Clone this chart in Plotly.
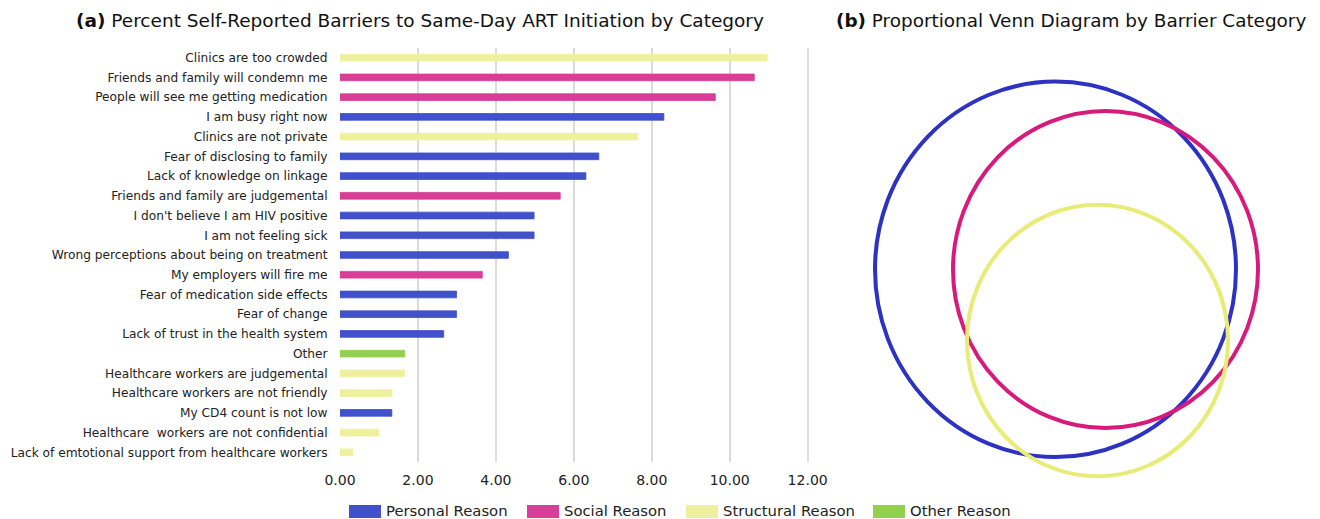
import plotly.graph_objects as go

# ---------------- data ----------------
categories = [
    "Clinics are too crowded",
    "Friends and family will condemn me",
    "People will see me getting medication",
    "I am busy right now",
    "Clinics are not private",
    "Fear of disclosing to family",
    "Lack of knowledge on linkage",
    "Friends and family are judgemental",
    "I don't believe I am HIV positive",
    "I am not feeling sick",
    "Wrong perceptions about being on treatment",
    "My employers will fire me",
    "Fear of medication side effects",
    "Fear of change",
    "Lack of trust in the health system",
    "Other",
    "Healthcare workers are judgemental",
    "Healthcare workers are not friendly",
    "My CD4 count is not low",
    "Healthcare  workers are not confidential",
    "Lack of emtotional support from healthcare workers",
]
values = [10.96, 10.63, 9.63, 8.31, 7.64, 6.64, 6.31, 5.65, 4.98, 4.98, 4.32,
          3.65, 2.99, 2.99, 2.66, 1.66, 1.66, 1.33, 1.33, 1.00, 0.33]
groups = ["Structural", "Social", "Social", "Personal", "Structural", "Personal",
          "Personal", "Social", "Personal", "Personal", "Personal", "Social",
          "Personal", "Personal", "Personal", "Other", "Structural", "Structural",
          "Personal", "Structural", "Structural"]
x_ticks = [0, 2, 4, 6, 8, 10, 12]
x_tick_labels = ["0.00", "2.00", "4.00", "6.00", "8.00", "10.00", "12.00"]

legend_names = ["Personal Reason", "Social Reason", "Structural Reason", "Other Reason"]
legend_keys = ["Personal", "Social", "Structural", "Other"]

# Venn circles (panel units)
venn_sets = ["Personal", "Social", "Structural"]
venn_cx = [195.5, 245.5, 237.5]
venn_cy = [202.6, 202.4, 134.1]
venn_r = [180.5, 152.5, 130.5]

# ---------------- styles ----------------
bar_colors = {"Personal": "#4150CB", "Social": "#D83D97", "Structural": "#EEF09E", "Other": "#92D050"}
venn_colors = {"Personal": "#2D32C2", "Social": "#D81A7C", "Structural": "#E8EC76"}

W, H = 1320, 519
def px(x):
    return x / W
def py(y):
    return 1 - y / H

fig = go.Figure()
fig.add_trace(go.Bar(
    x=values, y=categories, orientation="h",
    marker=dict(color=[bar_colors[g] for g in groups],
                line=dict(width=0.8, color=[bar_colors[g] for g in groups])),
    width=0.34, showlegend=False, hoverinfo="x+y",
))

fig.update_layout(
    width=W, height=H,
    margin=dict(l=0, r=0, t=0, b=0, autoexpand=False),
    paper_bgcolor="white", plot_bgcolor="white",
    font=dict(family="DejaVu Sans", color="#222222"),
    showlegend=False,
    xaxis=dict(
        domain=[px(340), px(810)], range=[0, 12.06], tickvals=x_ticks, ticktext=x_tick_labels,
        showgrid=True, gridcolor="#DCDCDC", gridwidth=2, zeroline=False, showline=False,
        tickfont=dict(size=14, color="#222222"), ticks="outside", ticklen=5, tickcolor="white",
        anchor="y", automargin=False,
    ),
    yaxis=dict(
        domain=[py(462.2), py(47.8)], categoryorder="array", categoryarray=categories,
        autorange="reversed", showgrid=False, zeroline=False, showline=False,
        tickfont=dict(size=12.2, color="#222222"), ticks="outside", ticklen=9, tickcolor="white",
        anchor="x", automargin=False,
    ),
    xaxis2=dict(domain=[px(860), px(1280)], range=[0, 420], visible=False, anchor="y2",
                automargin=False),
    yaxis2=dict(domain=[py(480), py(60)], range=[0, 420 / 1.04], visible=False, anchor="x2",
                automargin=False),
)

shapes = []
for s, cx, cy, r in zip(venn_sets, venn_cx, venn_cy, venn_r):
    shapes.append(dict(type="circle", xref="x2", yref="y2",
                       x0=cx - r, x1=cx + r, y0=cy - r, y1=cy + r,
                       line=dict(color=venn_colors[s], width=4)))

annotations = [
    dict(text="<b>(a)</b> Percent Self-Reported Barriers to Same-Day ART Initiation by Category",
         x=px(419.5), y=py(20), xref="paper", yref="paper", showarrow=False,
         xanchor="center", yanchor="middle", font=dict(size=18.5, color="#111111")),
    dict(text="<b>(b)</b> Proportional Venn Diagram by Barrier Category",
         x=px(1070.5), y=py(20), xref="paper", yref="paper", showarrow=False,
         xanchor="center", yanchor="middle", font=dict(size=18.4, color="#111111")),
]

# manual legend
sw_x = [349, 527, 686, 873]
for name, key, x0 in zip(legend_names, legend_keys, sw_x):
    shapes.append(dict(type="rect", xref="paper", yref="paper",
                       x0=px(x0), x1=px(x0 + 32), y0=py(518), y1=py(505),
                       fillcolor=bar_colors[key], line=dict(width=0)))
    annotations.append(dict(text=name, x=px(x0 + 35), y=py(510.5), xref="paper", yref="paper",
                            showarrow=False, xanchor="left", yanchor="middle",
                            font=dict(size=14.8, color="#222222")))

fig.update_layout(shapes=shapes, annotations=annotations)
fig.write_html("out.html")
